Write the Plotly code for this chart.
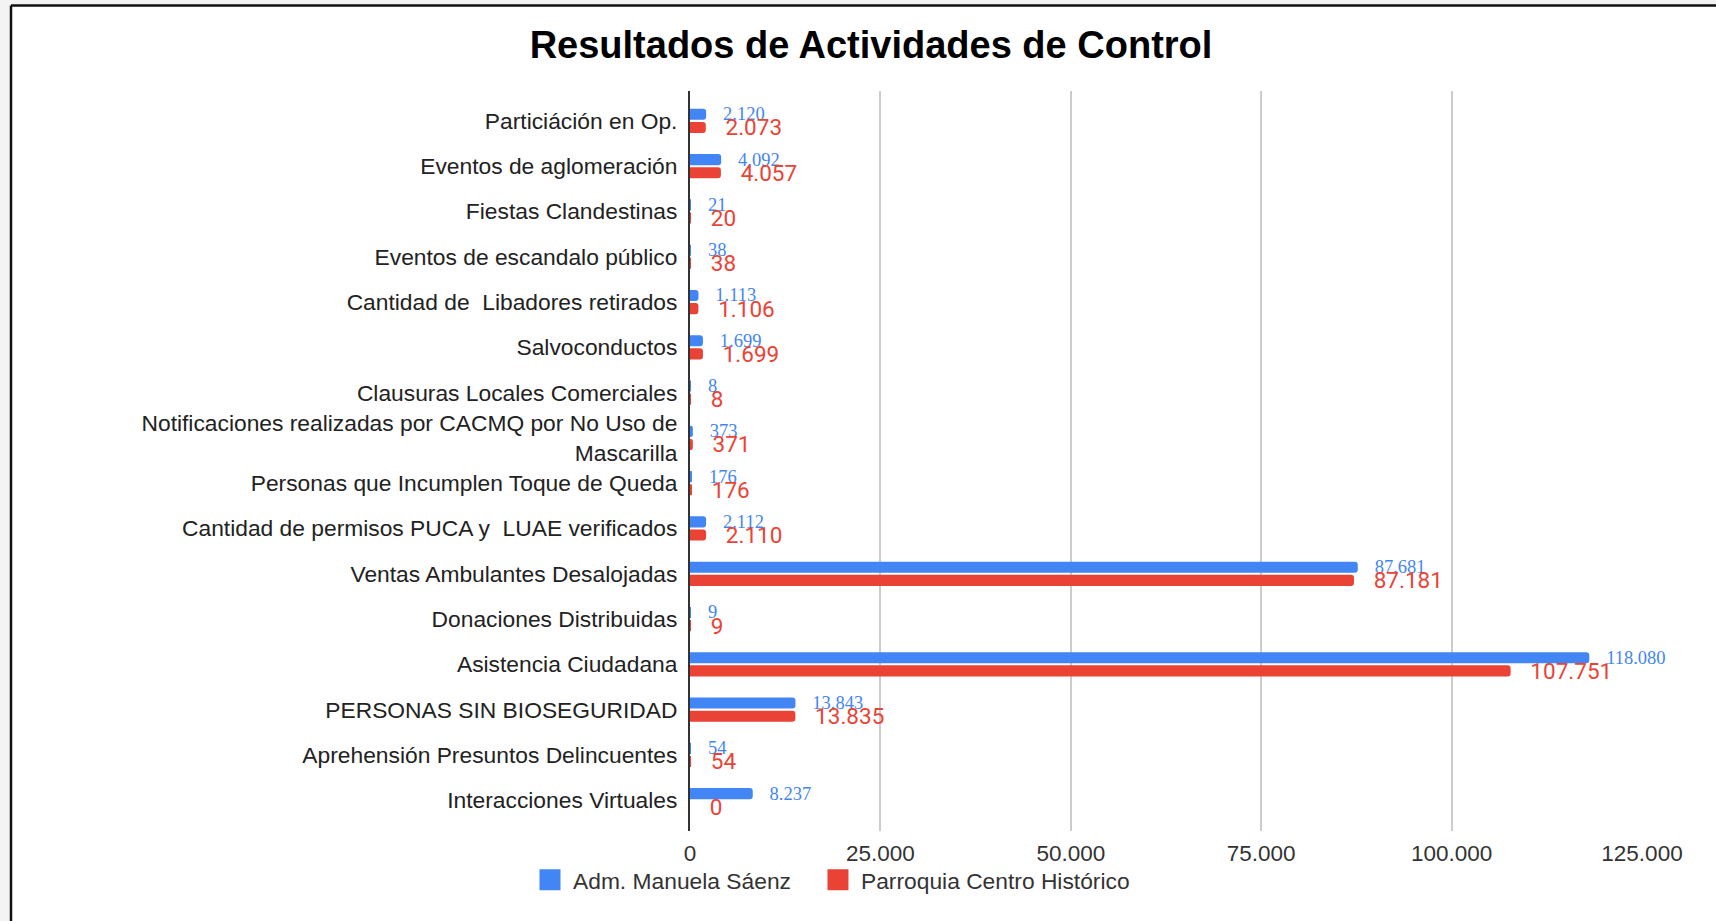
import plotly.graph_objects as go

categories = [
    "Particiáción en Op.",
    "Eventos de aglomeración",
    "Fiestas Clandestinas",
    "Eventos de escandalo público",
    "Cantidad de  Libadores retirados",
    "Salvoconductos",
    "Clausuras Locales Comerciales",
    "Notificaciones realizadas por CACMQ por No Uso de<br>Mascarilla",
    "Personas que Incumplen Toque de Queda",
    "Cantidad de permisos PUCA y  LUAE verificados",
    "Ventas Ambulantes Desalojadas",
    "Donaciones Distribuidas",
    "Asistencia Ciudadana",
    "PERSONAS SIN BIOSEGURIDAD",
    "Aprehensión Presuntos Delincuentes",
    "Interacciones Virtuales",
]
manuela_saenz = [2120, 4092, 21, 38, 1113, 1699, 8, 373, 176, 2112, 87681, 9, 118080, 13843, 54, 8237]
centro_historico = [2073, 4057, 20, 38, 1106, 1699, 8, 371, 176, 2110, 87181, 9, 107751, 13835, 54, 0]
series_names = ["Adm. Manuela Sáenz", "Parroquia Centro Histórico"]
x_ticks = [0, 25000, 50000, 75000, 100000, 125000]

BLUE = "#4285F4"
RED = "#EA4335"

fig = go.Figure()
fig.add_trace(go.Bar(
    y=categories, x=manuela_saenz, name=series_names[0], orientation="h",
    legendgroup="a", showlegend=False,
    marker=dict(color=BLUE, cornerradius=3, line=dict(width=0)),
    texttemplate="\u00a0" * 3 + "%{x:,}", textposition="outside", constraintext="none",
    textfont=dict(family="Liberation Serif", size=18.5, color=BLUE),
    cliponaxis=False,
))
fig.add_trace(go.Bar(
    y=categories, x=centro_historico, name=series_names[1], orientation="h",
    legendgroup="b", showlegend=False,
    marker=dict(color=RED, cornerradius=3, line=dict(width=0)),
    texttemplate="\u00a0" * 3 + "%{x:,}", textposition="outside", constraintext="none",
    textfont=dict(family="Roboto", size=22.5, color=RED),
    cliponaxis=False,
))
# legend entries (larger square symbols, like the reference)
legend_pad = ["\u00a0" * 3, ""]
for name, pad, color, grp in zip(series_names, legend_pad, [BLUE, RED], ["a", "b"]):
    fig.add_trace(go.Scatter(
        x=[None], y=[None], mode="markers", name=name + pad, legendgroup=grp, showlegend=True,
        marker=dict(symbol="square", size=16, color=color, line=dict(color=color, width=5)),
        hoverinfo="skip",
    ))

L, R, T, B = 690, 74, 91, 90
W, H = 1716, 921
pw, ph = W - L - R, H - T - B

def px(xp):
    return (xp - L) / pw

def py(yp):
    return (H - B - yp) / ph

shapes = [
    dict(type="rect", xref="paper", yref="paper", x0=px(0), x1=px(10), y0=py(921), y1=py(0),
         fillcolor="#f3f3f3", line=dict(width=0), layer="below"),
    dict(type="rect", xref="paper", yref="paper", x0=px(0), x1=px(1716), y0=py(4.5), y1=py(0),
         fillcolor="#f3f3f3", line=dict(width=0), layer="below"),
    dict(type="line", xref="paper", yref="paper", x0=px(11), x1=px(11), y0=py(921), y1=py(5.5),
         line=dict(color="#111", width=2.5)),
    dict(type="line", xref="paper", yref="paper", x0=px(11), x1=px(1716), y0=py(5.5), y1=py(5.5),
         line=dict(color="#111", width=2.5)),
]

fig.update_layout(
    width=W, height=H,
    margin=dict(l=L, r=R, t=T, b=B, autoexpand=False),
    paper_bgcolor="white", plot_bgcolor="white",
    separators=",.",
    barmode="group", bargap=0.42, bargroupgap=0.155,
    font=dict(family="Liberation Sans", size=22.8, color="#222"),
    title=dict(text="Resultados de Actividades de Control", x=871 / W, xanchor="center",
               xref="container", y=1 - 45 / H, yanchor="middle", yref="container",
               font=dict(family="Liberation Sans", size=38, color="#000", weight="bold")),
    xaxis=dict(range=[0, 125000], tickvals=x_ticks, tickformat=",d", showgrid=True,
               gridcolor="#cccccc", gridwidth=1.5, zeroline=False, showline=False, ticks="",
               tickfont=dict(size=22.5, color="#333"), ticklabelstandoff=6),
    yaxis=dict(range=[15.68, -0.66], showline=True, linecolor="#333", linewidth=2,
               showgrid=False, ticks="", ticklabelstandoff=6,
               tickfont=dict(size=22.8, color="#222")),
    legend=dict(orientation="h", x=px(831), xanchor="center",
                y=py(880), yanchor="middle", font=dict(size=22.8, color="#333"),
                bgcolor="rgba(0,0,0,0)", itemwidth=36,
                traceorder="normal"),
    shapes=shapes,
    showlegend=True,
)

fig.write_html("out.html", config={"displayModeBar": False},
               post_script="document.body.style.margin='0px';")
